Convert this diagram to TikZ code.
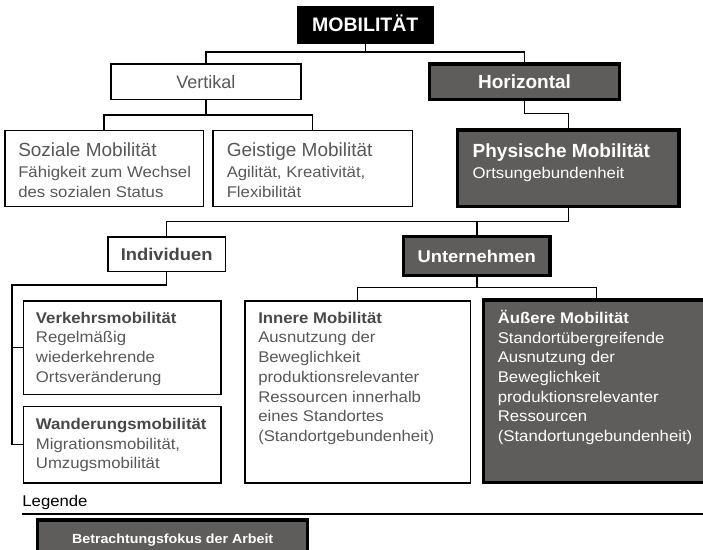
\documentclass[tikz,border=0pt]{standalone}
\usepackage{fontspec}
\setmainfont{Liberation Sans}
\newfontfamily\bodyfont[FakeStretch=1.08]{Liberation Sans}
\usetikzlibrary{calc}
\definecolor{darkfill}{RGB}{94,93,91}
\definecolor{txtgray}{RGB}{88,88,88}
\definecolor{headgray}{RGB}{72,72,72}
\begin{document}
\begin{tikzpicture}[x=1pt,y=-1pt,
  thinbox/.style={draw=black, line width=1.5pt, fill=white, rectangle, inner sep=0pt, outer sep=0pt},
  thickbox/.style={draw=black, line width=3.4pt, fill=darkfill, rectangle, inner sep=0pt, outer sep=0pt},
  conn/.style={draw=black, line width=1.6pt},
  txt/.style={inner sep=0pt, outer sep=0pt, anchor=base west, text=txtgray,
    font=\bodyfont\fontsize{15.5}{19.7}\selectfont},
]
\useasboundingbox (0,0) rectangle (703,549);

% top level
\node[fill=black, draw=black, line width=1pt, inner sep=0pt, outer sep=0pt,
      minimum width=136.3, minimum height=37.3, text height=13.5, text depth=0pt,
      text=white, font=\fontsize{19.5}{20}\selectfont\bfseries] (mob) at (365.3,25.2) {MOBILITÄT};

\node[thinbox, minimum width=190.2, minimum height=35.2, text height=13, text depth=0pt,
      text=txtgray, font=\fontsize{18}{20}\selectfont] (vert) at (205.85,81.65) {Vertikal};
\node[thickbox, minimum width=189.6, minimum height=35.3, text height=13.5, text depth=0pt,
      text=white, font=\fontsize{19}{20}\selectfont\bfseries] (hor) at (524.5,81.65) {Horizontal};

% second level
\node[thinbox, minimum width=198.5, minimum height=75.8] (soz) at (104,168.5) {};
\node[thinbox, minimum width=199.5, minimum height=75.8] (geist) at (312.5,168.5) {};
\node[thickbox, minimum width=221.3, minimum height=76.6] (phys) at (568.35,168.3) {};

\node[txt] (sozT) at ($(soz.north west)+(13.5,26.1)$)
  {\vtop{\hbox{\fontsize{19}{20}\selectfont\rmfamily Soziale Mobilität}\vskip1pt
   \hbox{Fähigkeit zum Wechsel}\hbox{des sozialen Status}}};
\node[txt] (geistT) at ($(geist.north west)+(14,26.1)$)
  {\vtop{\hbox{\fontsize{19}{20}\selectfont\rmfamily Geistige Mobilität}\vskip1pt
   \hbox{Agilität, Kreativität,}\hbox{Flexibilität}}};
\node[txt, text=white] (physT) at ($(phys.north west)+(15,27.3)$)
  {\vtop{\hbox{\fontsize{19}{20}\selectfont\rmfamily\bfseries Physische Mobilität}\vskip1pt
   \hbox{Ortsungebundenheit}}};

% third level
\node[thinbox, minimum width=117.2, minimum height=34.2, text height=12.5, text depth=0pt,
      text=headgray, font=\bodyfont\fontsize{17}{20}\selectfont\bfseries] (ind) at (166.65,254.15) {Individuen};
\node[thickbox, minimum width=146.6, minimum height=39.2, text height=12.5, text depth=0pt,
      text=white, font=\bodyfont\fontsize{17}{20}\selectfont\bfseries] (unt) at (476.7,256) {Unternehmen};

% fourth level
\node[thinbox, minimum width=197.5, minimum height=93.5] (verk) at (122.2,347.5) {};
\node[thinbox, minimum width=197.5, minimum height=76.5] (wand) at (122.2,444.5) {};
\node[thinbox, minimum width=225.5, minimum height=182] (inn) at (357.5,391.75) {};
\node[thickbox, minimum width=225.6, minimum height=182.3] (aus) at (596.5,391.15) {};

\node[txt] (verkT) at ($(verk.north west)+(12.5,22.5)$)
  {\vtop{\hbox{\bfseries\color{headgray}Verkehrsmobilität}\hbox{Regelmäßig}\hbox{wiederkehrende}\hbox{Ortsveränderung}}};
\node[txt] (wandT) at ($(wand.north west)+(12.5,23.2)$)
  {\vtop{\hbox{\bfseries\color{headgray}Wanderungsmobilität}\hbox{Migrationsmobilität,}\hbox{Umzugsmobilität}}};
\node[txt] (innT) at ($(inn.north west)+(13.5,22.5)$)
  {\vtop{\hbox{\bfseries\color{headgray}Innere Mobilität}\hbox{Ausnutzung der}\hbox{Beweglichkeit}\hbox{produktionsrelevanter}\hbox{Ressourcen innerhalb}\hbox{eines Standortes}\hbox{(Standortgebundenheit)}}};
\node[txt, text=white] (ausT) at ($(aus.north west)+(14.1,23.3)$)
  {\vtop{\hbox{\bfseries Äußere Mobilität}\hbox{Standortübergreifende}\hbox{Ausnutzung der}\hbox{Beweglichkeit}\hbox{produktionsrelevanter}\hbox{Ressourcen}\hbox{(Standortungebundenheit)}}};

% connectors
\coordinate (m1) at ($(mob.south)+(0,8.4)$);
\draw[conn] (mob.south) -- (m1);
\draw[conn] (vert.north) |- (m1) -| (hor.north);

\coordinate (v1) at ($(vert.south)+(0,16)$);
\draw[conn] (vert.south) -- (v1);
\draw[conn] (soz.north) |- (v1) -| (geist.north);

\coordinate (h1) at ($(hor.south)+(0,14)$);
\draw[conn] (hor.south) -- (h1) -| (phys.north);

\coordinate (p1) at ($(phys.south)+(0,15)$);
\draw[conn] (phys.south) -- (p1) -| (ind.north);
\draw[conn] (unt.north) -- (unt.north |- p1);

\coordinate (i1) at ($(ind.south)+(0,13.5)$);
\coordinate (i2) at ($(wand.west)+(-11.5,0)$);
\draw[conn] (ind.south) -- (i1) -| (i2) -- (wand.west);
\draw[conn] (verk.west) -- (verk.west -| i2);

\coordinate (u1) at ($(unt.south)+(0,12)$);
\draw[conn] (unt.south) -- (u1);
\draw[conn] (inn.north) |- (u1) -| (aus.north);

% legend
\node[txt, text=black] (leg) at (22.4,506) {Legende};
\coordinate (l1) at (22.4,514.3);
\coordinate (l2) at (703,514.3);
\draw[black, line width=1.8pt] (l1) -- (l2);
\node[thickbox, minimum width=270.1, minimum height=38.3, text height=9.5, text depth=0pt,
      text=white, font=\bodyfont\fontsize{13.2}{15}\selectfont\bfseries] (fokus) at (172.65,539.15)
      {Betrachtungsfokus der Arbeit};
\end{tikzpicture}
\end{document}
